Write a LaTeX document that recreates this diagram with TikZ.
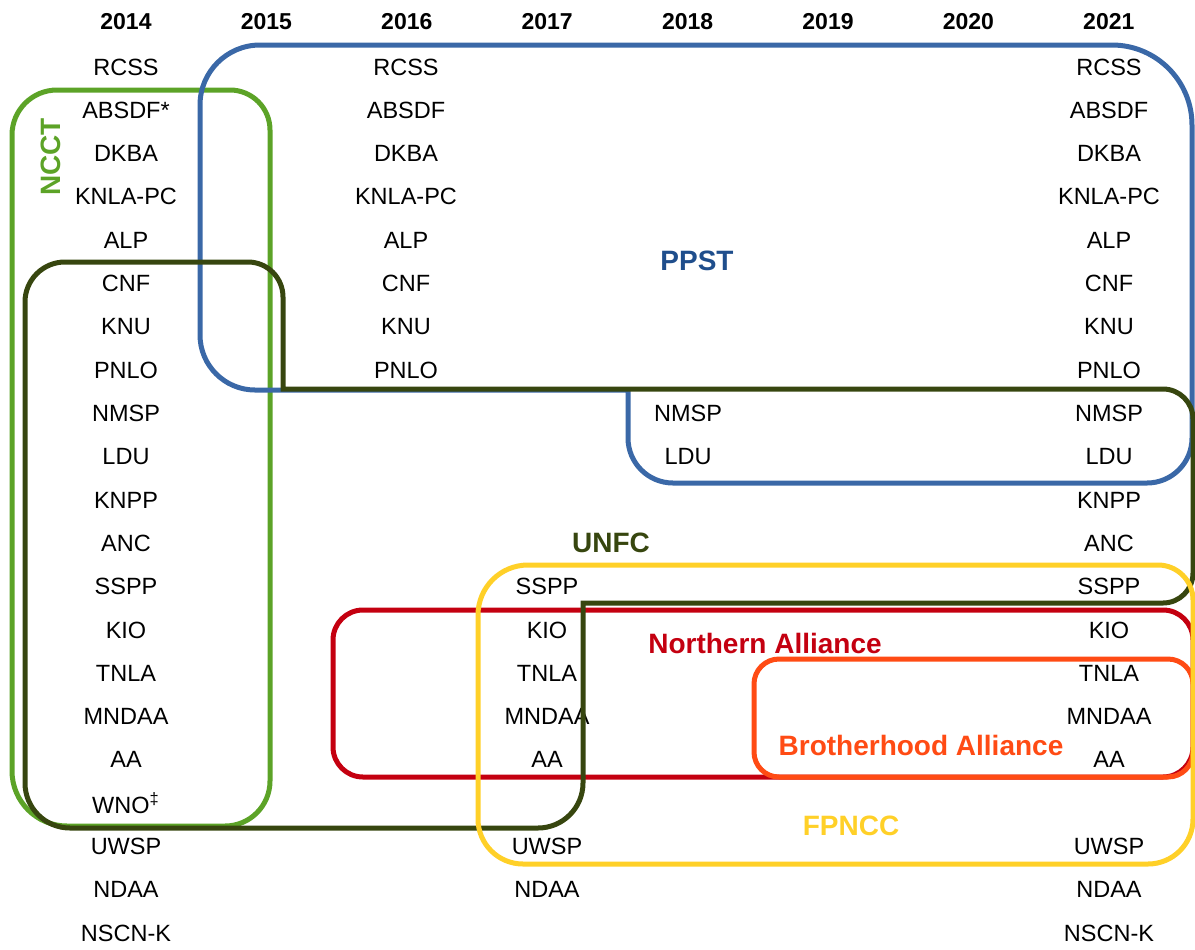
\documentclass[tikz,border=0pt]{standalone}
\usepackage{fontspec}
\setmainfont{Liberation Sans}
\definecolor{ncctgreen}{RGB}{92,163,39}
\definecolor{ppstblue}{RGB}{58,104,167}
\definecolor{ppsttext}{RGB}{31,78,140}
\definecolor{unfcolive}{RGB}{55,70,15}
\definecolor{fpnccyellow}{RGB}{255,208,40}
\definecolor{nared}{RGB}{196,0,16}
\definecolor{baorange}{RGB}{255,75,20}
\begin{document}
\begin{tikzpicture}[
    x=0.5pt, y=-0.5pt,
    item/.style={font=\fontsize{11.75}{14}\selectfont, inner sep=0pt},
    year/.style={font=\fontsize{11.5}{14}\selectfont\bfseries, inner sep=0pt},
    group/.style={font=\fontsize{14}{17}\selectfont\bfseries, inner sep=0pt},
    frame/.style={line width=2.5pt}
    ]
    \useasboundingbox (0,0) rectangle (1195,949);

    % years along the top
    \foreach \yr [count=\k from 0] in {2014,2015,2016,2017,2018,2019,2020,2021}
        \node[year] (y\yr) at (126+140.4*\k,22) {\yr};

    % 2014 column
    \foreach \t [count=\r] in {RCSS,ABSDF*,DKBA,KNLA-PC,ALP,CNF,KNU,PNLO,NMSP,LDU,
        KNPP,ANC,SSPP,KIO,TNLA,MNDAA,AA,{WNO\textsuperscript{\ddag}},UWSP,NDAA,NSCN-K}
        \node[item] (a14-\r) at (126,67+43.3*\r-43.3) {\t};

    % 2016 column
    \foreach \t [count=\r] in {RCSS,ABSDF,DKBA,KNLA-PC,ALP,CNF,KNU,PNLO}
        \node[item] (a16-\r) at (406,67+43.3*\r-43.3) {\t};

    % 2017 column
    \foreach \r/\t in {13/SSPP,14/KIO,15/TNLA,16/MNDAA,17/AA,19/UWSP,20/NDAA}
        \node[item] (a17-\r) at (547,67+43.3*\r-43.3) {\t};

    % 2018 column
    \foreach \r/\t in {9/NMSP,10/LDU}
        \node[item] (a18-\r) at (688,67+43.3*\r-43.3) {\t};

    % 2021 column
    \foreach \r/\t in {1/RCSS,2/ABSDF,3/DKBA,4/KNLA-PC,5/ALP,6/CNF,7/KNU,8/PNLO,9/NMSP,
        10/LDU,11/KNPP,12/ANC,13/SSPP,14/KIO,15/TNLA,16/MNDAA,17/AA,19/UWSP,20/NDAA,21/NSCN-K}
        \node[item] (a21-\r) at (1109,67+43.3*\r-43.3) {\t};

    % group names
    \node[group, ncctgreen, rotate=90] (ncct) at (51,157) {NCCT};
    \node[group, ppsttext] (ppst) at (697,261) {PPST};
    \node[group, unfcolive] (unfc) at (611,543) {UNFC};
    \node[group, nared] (north) at (765,643) {Northern Alliance};
    \node[group, baorange] (brother) at (921,745) {Brotherhood Alliance};
    \node[group, fpnccyellow] (fpncc) at (851,826) {FPNCC};

    % NCCT
    \draw[frame, ncctgreen] (12,135) arc[start angle=180, end angle=270, radius=45]
        -- (230,90) arc[start angle=270, end angle=360, radius=40]
        -- (270,781) arc[start angle=0, end angle=90, radius=45]
        -- (67,826) arc[start angle=90, end angle=180, radius=55] -- cycle;
    % PPST
    \draw[frame, ppstblue] (200,105) arc[start angle=180, end angle=270, radius=60]
        -- (1112,45) arc[start angle=270, end angle=360, radius=80]
        -- (1192,438) arc[start angle=0, end angle=90, radius=45]
        -- (673,483) arc[start angle=90, end angle=180, radius=45]
        -- (628,390) -- (255,390) arc[start angle=90, end angle=180, radius=55] -- cycle;
    % Northern Alliance
    \draw[frame, nared] (333,640) arc[start angle=180, end angle=270, radius=30]
        -- (1163,610) arc[start angle=270, end angle=360, radius=30]
        -- (1193,747) arc[start angle=0, end angle=90, radius=30]
        -- (363,777) arc[start angle=90, end angle=180, radius=30] -- cycle;
    % Brotherhood Alliance
    \draw[frame, baorange] (754,684) arc[start angle=180, end angle=270, radius=25]
        -- (1168,659) arc[start angle=270, end angle=360, radius=25]
        -- (1193,752) arc[start angle=0, end angle=90, radius=25]
        -- (779,777) arc[start angle=90, end angle=180, radius=25] -- cycle;
    % UNFC
    \draw[frame, unfcolive] (25,302) arc[start angle=180, end angle=270, radius=40]
        -- (248,262) arc[start angle=270, end angle=360, radius=35]
        -- (283,389) -- (1163,389) arc[start angle=270, end angle=360, radius=30]
        -- (1193,573) arc[start angle=0, end angle=90, radius=30]
        -- (583,603) -- (583,783) arc[start angle=0, end angle=90, radius=45]
        -- (70,828) arc[start angle=90, end angle=180, radius=45] -- cycle;
    % FPNCC
    \draw[frame, fpnccyellow] (478,615) arc[start angle=180, end angle=270, radius=50]
        -- (1158,565) arc[start angle=270, end angle=360, radius=35]
        -- (1193,819) arc[start angle=0, end angle=90, radius=45]
        -- (523,864) arc[start angle=90, end angle=180, radius=45] -- cycle;
\end{tikzpicture}
\end{document}
